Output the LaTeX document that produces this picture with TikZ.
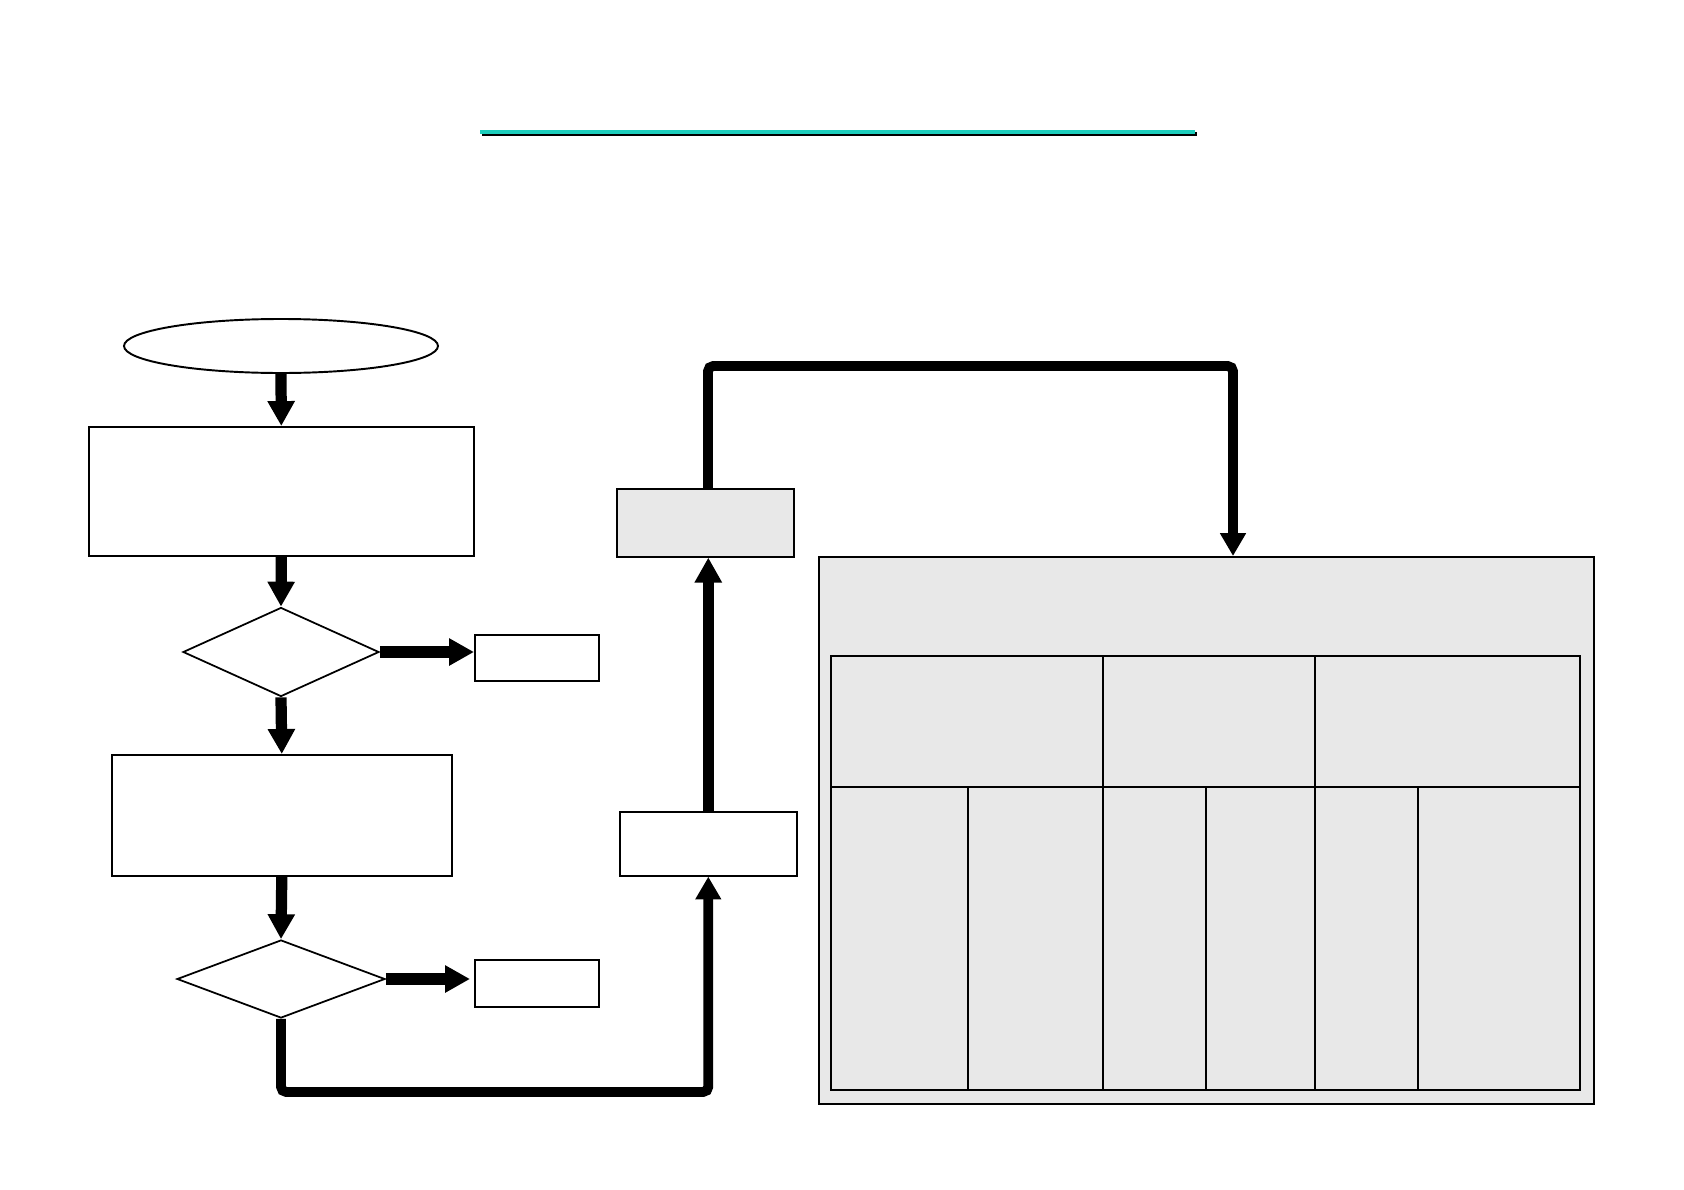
\documentclass[tikz,border=0pt]{standalone}
\usetikzlibrary{shapes.geometric,arrows.meta}
\newlength\pxl \setlength\pxl{0.02cm}
\definecolor{rule}{RGB}{28,206,188}
\definecolor{shade}{RGB}{205,205,205}
\definecolor{panel}{RGB}{232,232,232}
\begin{document}
\begin{tikzpicture}[x=0.02cm,y=-0.02cm,
  box/.style={draw, line width=0.9pt, inner sep=0pt, anchor=north west},
  gbox/.style={box, fill=panel},
  dia/.style={draw, diamond, line width=1pt, inner sep=0pt},
  flow/.style={line width=6.4pt, -{Triangle[width=14.7pt,length=14.2pt]}},
  conn/.style={line width=5.6pt, rounded corners=3pt, -{Triangle[width=14pt,length=13pt]}},
  grid/.style={line width=0.6pt}]
\useasboundingbox (0,0) rectangle (1684,1190);
% title rule
\draw[shade, line width=2pt] (482,134) -- (1197,134);
\draw[rule, line width=2.6pt] (480,132) -- (1195,132);
% nodes
\node[draw, ellipse, line width=1.1pt, inner sep=0pt, minimum width=314\pxl, minimum height=54\pxl] (ell) at (281,346) {};
\node[box, minimum width=385\pxl, minimum height=129\pxl] (b1) at (88,426) {};
\node[dia, minimum width=196\pxl, minimum height=89\pxl] (d1) at (281,652) {};
\node[box, minimum width=124\pxl, minimum height=46\pxl] (s1) at (474,634) {};
\node[box, minimum width=340\pxl, minimum height=121\pxl] (b2) at (111,754) {};
\node[dia, minimum width=208\pxl, minimum height=78\pxl] (d2) at (281,979) {};
\node[box, minimum width=124\pxl, minimum height=47\pxl] (s2) at (474,959) {};
\node[box, minimum width=177\pxl, minimum height=64\pxl] (b3) at (619,811) {};
\node[gbox, minimum width=177\pxl, minimum height=68\pxl] (b4) at (616,488) {};
\node[gbox, line width=1.1pt, minimum width=775\pxl, minimum height=547\pxl] (big) at (818,556) {};
% table inside big panel
\draw[grid] (831,656) rectangle (1580,1090);
\draw[grid] (831,787) -- (1580,787);
\foreach \x in {1103,1315} \draw[grid] (\x,656) -- (\x,1090);
\foreach \x in {968,1206,1418} \draw[grid] (\x,787) -- (\x,1090);
% connectors
\draw[flow] (ell.south) -- (b1.north);
\draw[flow] (b1.south) -- (d1.north);
\draw[flow] (d1.south) -- (b2.north);
\draw[flow] (b2.south) -- (d2.north);
\draw[flow] (d1.east) -- (s1.west |- d1.east);
\draw[flow] (d2.east) -- ([xshift=-4\pxl]s2.west |- d2.east);
\coordinate (low) at (279,1092);
\draw[conn] (d2.south) -- (d2.south |- low) -| (b3.south);
\draw[flow] (b3.north) -- (b3.north |- b4.south);
\coordinate (top) at (708,366);
\coordinate (bigin) at (1233,556);
\draw[conn] (b4.north -| top) |- (top -| bigin) -- (bigin);
\end{tikzpicture}
\end{document}
